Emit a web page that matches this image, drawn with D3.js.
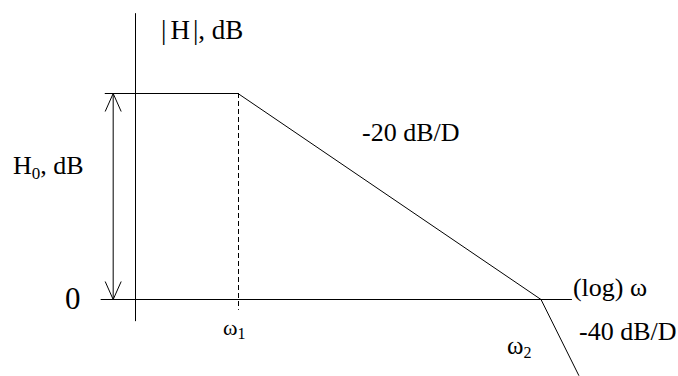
<!DOCTYPE html>
<html>
<head>
<meta charset="utf-8">
<script src="https://cdn.jsdelivr.net/npm/d3@7"></script>
<style>
  body { margin: 0; background: #fff; }
</style>
</head>
<body>
<div id="bode"></div>
<script>
// asymptotic magnitude (omega in units of w1, magnitude in dB)
var magOmega = [0.132, 1, 100, 178];
var magDb = [40, 40, 0, -14.8];

// axis extents
var axisOmega = [0.124, 160];
var axisDb = [-4.3, 55.5];
var yAxisAt = 0.209;

// break frequencies and their labels
var breakOmega = [1, 100];
var breakLabels = ["1", "2"];

var slopeLabels = ["-20 dB/D", "-40 dB/D"];
var h0Omega = 0.150;

var width = 678, height = 376;
var serif = "'Liberation Serif', 'Times New Roman', serif";

var x = d3.scaleLog()
    .domain([0.1, 1000])
    .range([86.5, 692.5]);

var y = d3.scaleLinear()
    .domain([0, 40])
    .range([299, 93]);

var svg = d3.select("#bode")
    .append("svg")
    .attr("width", width)
    .attr("height", height)
    .attr("font-family", serif);

var defs = svg.append("defs");
defs.append("marker")
    .attr("id", "open")
    .attr("viewBox", "0 0 20 20")
    .attr("refX", 19).attr("refY", 10)
    .attr("markerWidth", 20).attr("markerHeight", 20)
    .attr("markerUnits", "userSpaceOnUse")
    .attr("orient", "auto-start-reverse")
    .append("path")
    .attr("d", "M1,2 L19,10 L1,18")
    .attr("fill", "none")
    .attr("stroke", "#000")
    .attr("stroke-width", 1);

// axes
svg.append("line")
    .attr("x1", x(axisOmega[0])).attr("x2", x(axisOmega[1]))
    .attr("y1", y(0) + 0.5).attr("y2", y(0) + 0.5)
    .attr("stroke", "#000");

svg.append("line")
    .attr("x1", Math.round(x(yAxisAt)) + 0.5).attr("x2", Math.round(x(yAxisAt)) + 0.5)
    .attr("y1", y(axisDb[1])).attr("y2", y(axisDb[0]))
    .attr("stroke", "#000");

// dashed line at w1
svg.append("line")
    .attr("x1", x(breakOmega[0]) + 0.5).attr("x2", x(breakOmega[0]) + 0.5)
    .attr("y1", y(40)).attr("y2", y(-2.1))
    .attr("stroke", "#000")
    .attr("stroke-dasharray", "5,3");

// magnitude asymptotes
var line = d3.line()
    .x(function (d, i) { return x(magOmega[i]); })
    .y(function (d) { return y(d) + 0.5; });

svg.append("path")
    .datum(magDb)
    .attr("d", line)
    .attr("fill", "none")
    .attr("stroke", "#000");

// H0 double arrow
svg.append("line")
    .attr("x1", x(h0Omega)).attr("x2", x(h0Omega))
    .attr("y1", y(40) + 0.5).attr("y2", y(0) + 0.5)
    .attr("stroke", "#000")
    .attr("marker-start", "url(#open)")
    .attr("marker-end", "url(#open)");

// labels
var yl = svg.append("text")
    .attr("x", 161).attr("y", 39)
    .attr("font-size", 27);
yl.append("tspan").text("|");
yl.append("tspan").attr("dx", 4).text("H");
yl.append("tspan").attr("dx", 3).text("|, dB");

var h0 = svg.append("text")
    .attr("x", 13).attr("y", 174)
    .attr("font-size", 26);
h0.append("tspan").text("H");
h0.append("tspan").attr("font-size", 17).attr("dy", 5).text("0");
h0.append("tspan").attr("dy", -5).text(", dB");

svg.append("text")
    .attr("x", 65).attr("y", y(0) + 10)
    .attr("font-size", 31)
    .text("0");

svg.append("text")
    .attr("x", x(axisOmega[1]) + 1).attr("y", y(0) - 3)
    .attr("font-size", 26)
    .text("(log) \u03c9");

var breakPos = [[223, 335], [507, 354]];
var breakSize = [22, 25];
breakOmega.forEach(function (w, i) {
    var t = svg.append("text")
        .attr("x", breakPos[i][0]).attr("y", breakPos[i][1])
        .attr("font-size", breakSize[i]);
    t.append("tspan").text("\u03c9");
    t.append("tspan").attr("font-size", 16).attr("dy", 4).text(breakLabels[i]);
});

svg.append("text")
    .attr("x", 362).attr("y", 141)
    .attr("font-size", 26)
    .text(slopeLabels[0]);

svg.append("text")
    .attr("x", 579).attr("y", 340)
    .attr("font-size", 26)
    .text(slopeLabels[1]);
</script>
</body>
</html>
